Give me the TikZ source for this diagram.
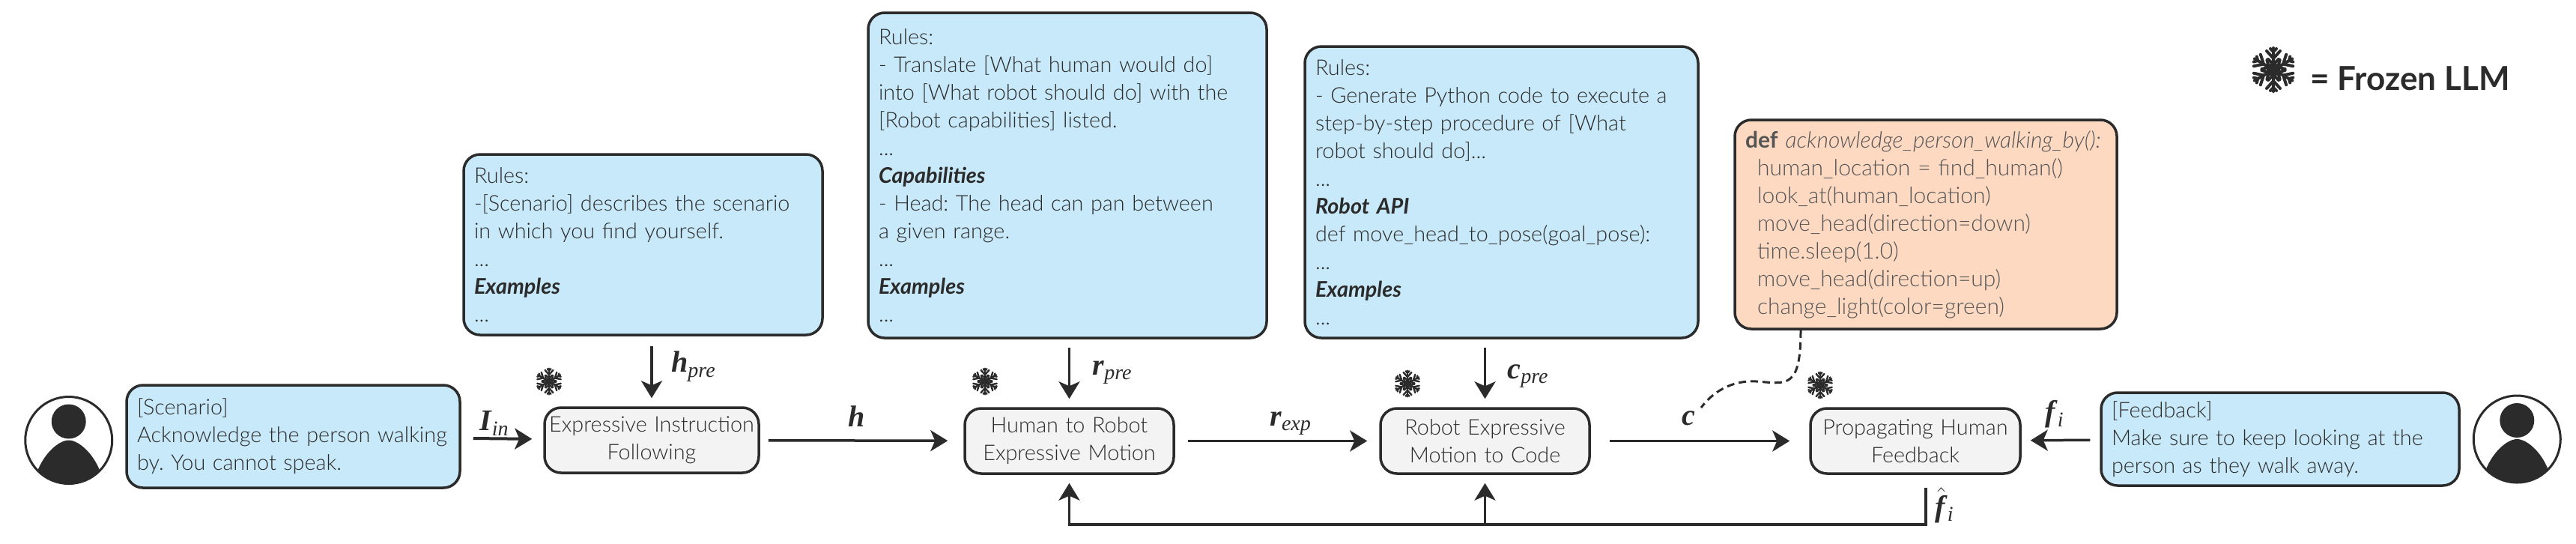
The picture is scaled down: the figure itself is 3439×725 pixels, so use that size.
\documentclass[tikz,border=0pt]{standalone}
\usepackage{fontspec}
\usepackage{amsmath}
\usepackage{amssymb}
\setmainfont{Lato}[UprightFont=* Light, ItalicFont=* Light Italic, BoldFont=* Bold, BoldItalicFont=* Bold Italic]
\newfontfamily\varfont{Liberation Serif}
\usetikzlibrary{arrows.meta, calc, positioning}
\definecolor{inkdark}{HTML}{2B2B2B}
\definecolor{promptblue}{HTML}{C7E9F9}
\definecolor{codeorange}{HTML}{FDD9C2}
\definecolor{blockgray}{HTML}{F3F3F3}
\newcommand{\varsym}[2]{{\varfont\textbf{\textit{#1}}}\textsubscript{\varfont\textit{#2}}}
\tikzset{pics/flake/.style={code={
	\begin{scope}[scale=#1, line width=#1*2pt, draw=inkdark, line cap=round]
		\fill[inkdark] (0,0) circle (9);
		\foreach \a in {0,60,...,300} {
			\draw[rotate=\a] (0,0) -- (0,29);
			\draw[rotate=\a] (-7,14) -- (0,7) -- (7,14);
			\draw[rotate=\a] (-9,25) -- (0,15) -- (9,25);
			\draw[rotate=\a] (-4,28) -- (0,24) -- (4,28);
		}
	\end{scope}
}}}

\begin{document}
\frenchspacing
\begin{tikzpicture}[x=0.5pt, y=-0.5pt, >={Stealth[length=11.5pt, width=14pt, inset=3pt]}]
	\tikzstyle{prompt} = [draw=inkdark, line width=1.75pt, fill=promptblue, rounded corners=11pt,
	inner xsep=7pt, inner ysep=0pt, align=left, text=inkdark, font=\fontsize{14.4}{18.5}\selectfont]
	\tikzstyle{codebox} = [prompt, fill=codeorange, text=inkdark!80, font=\fontsize{15}{18.5}\selectfont]
	\tikzstyle{block} = [draw=inkdark, line width=1.75pt, fill=blockgray, rounded corners=11pt,
	inner sep=0pt, align=center, text=inkdark, minimum height=43.5pt, font=\fontsize{14.4}{18.5}\selectfont]
	\tikzstyle{avatar} = [draw=inkdark, line width=1.5pt, circle, minimum size=58pt, inner sep=0pt]
	\tikzstyle{var} = [text=inkdark, inner sep=0pt, font=\fontsize{20}{20}\selectfont]
	\tikzstyle{flow} = [draw=inkdark, line width=1.75pt, ->]

	\useasboundingbox (0,0) rectangle (3439,725);

	\path
		node[block, text width=143pt] (inst) at (870,587.5) {Expressive Instruction\\Following}
		node[block, text width=139.5pt] (motion) at (1427.5,588.5) {Human to Robot\\Expressive Motion}
		node[block, text width=139.5pt] (mapcode) at (1982.5,588.5) {Robot Expressive\\Motion to Code}
		node[block, text width=140pt] (prop) at (2557,588.5) {Propagating Human\\Feedback}

		node[prompt, text width=208.5pt, minimum height=68.5pt] (scenario) at (391.5,582.5)
			{[Scenario]\\Acknowledge the person walking\\by. You cannot speak.}
		node[prompt, text width=225pt, minimum height=62pt] (feedback) at (3044,586)
			{[Feedback]\\Make sure to keep looking at the\\person as they walk away.}
		node[prompt, text width=225.5pt, minimum height=120.5pt] (rulesA) at (858.5,326.5)
			{Rules:\\-[Scenario] describes the scenario\\in which you find yourself.\\...\\\textbf{\textit{Examples}}\\...}
		node[prompt, text width=252pt, minimum height=217pt] (rulesB) at (1425,234)
			{Rules:\\- Translate [What human would do]\\into [What robot should do] with the\\{}[Robot capabilities] listed.\\...\\\textbf{\textit{Capabilities}}\\- Head: The head can pan between\\a given range.\\...\\\textbf{\textit{Examples}}\\...}
		node[prompt, text width=248.5pt, minimum height=194.5pt] (rulesC) at (2004.5,256.5)
			{Rules:\\- Generate Python code to execute a\\step-by-step procedure of [What\\robot should do]...\\...\\\textbf{\textit{Robot API}}\\def move\_head\_to\_pose(goal\_pose):\\...\\\textbf{\textit{Examples}}\\...}
		node[codebox, text width=241pt, minimum height=139.5pt] (code) at (2571,299.5)
			{\mbox{\textbf{def} \textit{acknowledge\_person\_walking\_by():}}\\
			\hspace*{8pt}human\_location = find\_human()\\
			\hspace*{8pt}look\_at(human\_location)\\
			\hspace*{8pt}move\_head(direction=down)\\
			\hspace*{8pt}time.sleep(1.0)\\
			\hspace*{8pt}move\_head(direction=up)\\
			\hspace*{8pt}change\_light(color=green)}

		node[avatar, left=8pt of scenario, yshift=-2.5pt] (userA) {}
		node[avatar, right=8pt of feedback] (userB) {}

		node[text=inkdark, inner sep=0pt, font=\fontsize{22}{22}\selectfont\bfseries, anchor=west] (legend) at (3084,105) {= Frozen LLM}

		node[var] (Iin) at (660,565) {\varsym{I}{in}}
		node[var] (hpre) at (926,489) {\varsym{h}{pre}}
		node[var] (hvar) at (1144,556) {\varfont\textbf{\textit{h}}}
		node[var] (rpre) at (1485,497) {\varsym{r}{pre}}
		node[var] (rexp) at (1723,565) {\varsym{r}{exp}}
		node[var] (cpre) at (2040,502) {\varsym{c}{pre}}
		node[var] (cvar) at (2254,558) {\varfont\textbf{\textit{c}}}
		node[var] (fi) at (2743,553) {\varsym{f}{i}}
		node[var] (fhat) at (2596,674) {$\hat{\text{\varfont\textbf{\textit{f}}}}$\textsubscript{\varfont\textit{i}}}

		(scenario) edge[flow, line width=2pt, shorten <=8pt, shorten >=7.5pt] (inst)
		(inst) edge[flow, shorten <=5.5pt, shorten >=10.5pt] (motion)
		(motion) edge[flow, shorten <=8.5pt, shorten >=8pt] (mapcode)
		(mapcode) edge[flow, shorten <=12.5pt, shorten >=13pt] (prop)
		(feedback) edge[flow, shorten <=6.5pt, shorten >=6pt] (prop)

		(rulesA.south -| inst) edge[flow, shorten <=6.5pt, shorten >=5.5pt] (inst)
		(rulesB.south -| motion) edge[flow, shorten <=5.5pt, shorten >=5.5pt] (motion)
		(rulesC.south -| mapcode) edge[flow, shorten <=5.5pt, shorten >=5.5pt] (mapcode)
	;

	\path (733,509) pic {flake=0.6} (1315,509) pic {flake=0.6} (1879,512) pic {flake=0.6}
		(2430,514) pic {flake=0.6} (3035,93) pic {flake=1};

	\coordinate (bend) at (2571,700);
	\coordinate (codeend) at (2271,544);
	\draw[flow, shorten >=5.5pt] ([xshift=7pt, yshift=-8.5pt]prop.south) -- (bend) -| (motion.south);
	\draw[flow, shorten >=5.5pt] (mapcode.south |- bend) -- (mapcode.south);
	\draw[draw=inkdark, line width=1.5pt, dash pattern=on 5pt off 3pt] ([xshift=-83.5pt]code.south) .. controls (2404,520) and (2385,512) .. (2345,509) .. controls (2310,507) and (2285,525) .. (codeend);

	\foreach \who in {userA, userB} {
		\begin{scope}
			\clip (\who) circle (28.5pt);
			\fill[inkdark] ([yshift=12.5pt]\who.center) circle (11.5pt);
			\begin{scope}[shift={(\who.center)}, x=1pt, y=1pt]
				\fill[inkdark] (-22,-24) .. controls (-18,-10) and (-7,0) .. (0,0) .. controls (7,0) and (18,-10) .. (22,-24) -- (22,-32) -- (-22,-32) -- cycle;
			\end{scope}
		\end{scope}
	}
\end{tikzpicture}
\end{document}
